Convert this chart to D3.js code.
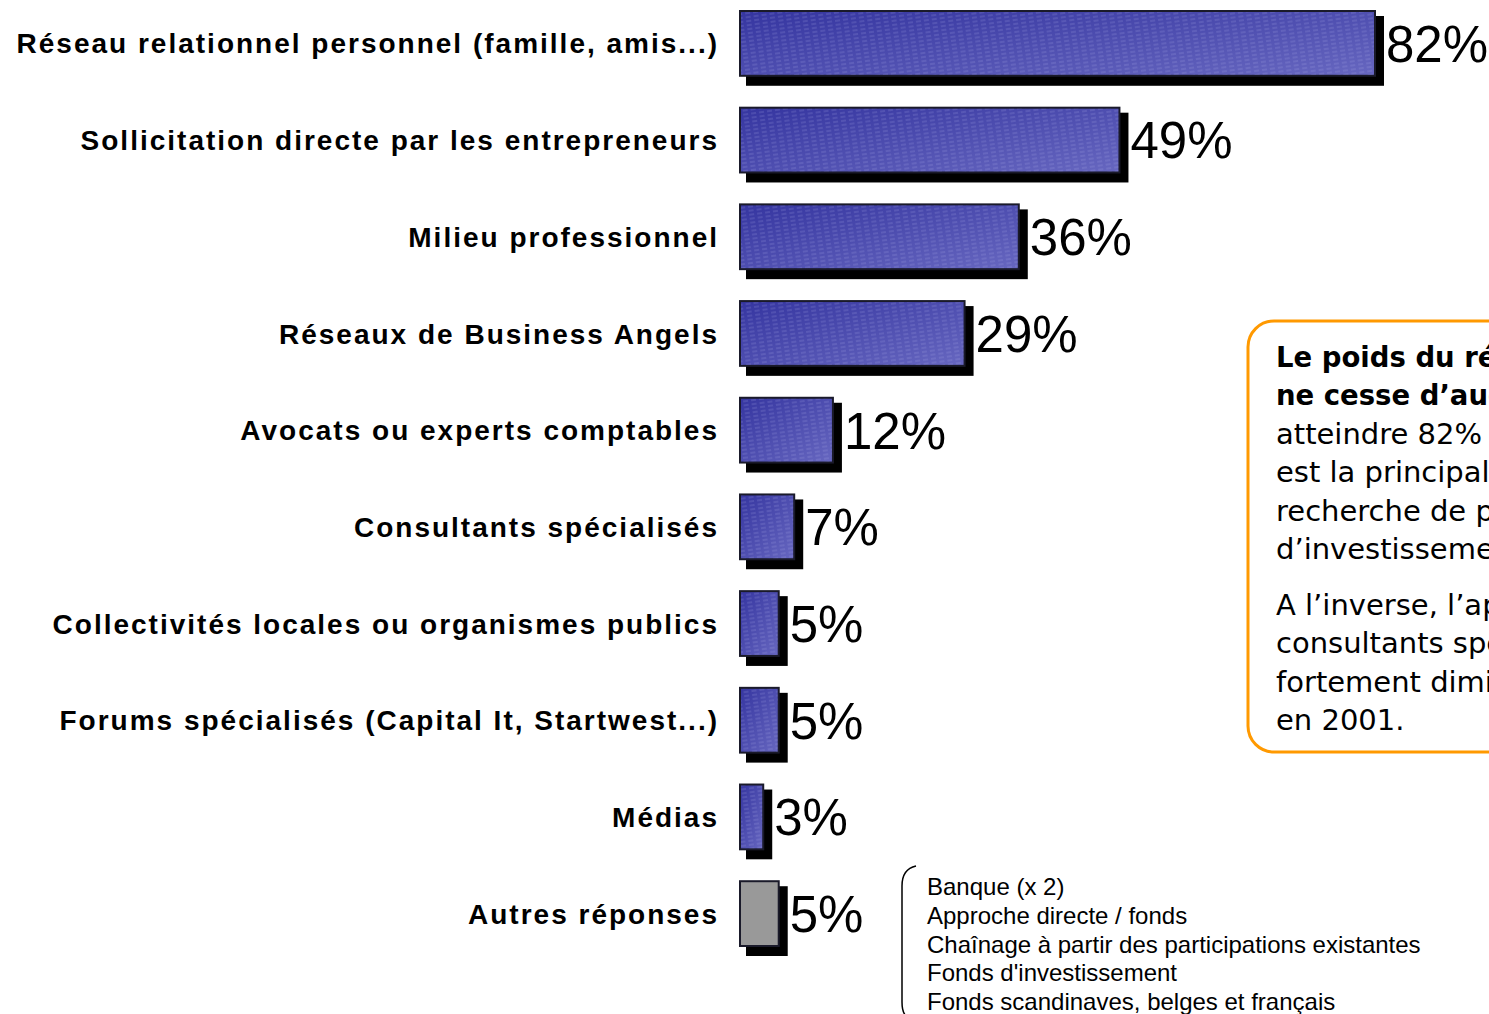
<!DOCTYPE html>
<html lang="fr">
<head>
<meta charset="utf-8">
<title>Sources de projets</title>
<script src="https://d3js.org/d3.v7.min.js"></script>
<style>
  html, body { margin: 0; padding: 0; background: #fff; overflow: hidden; }
  svg { display: block; }
</style>
</head>
<body>
<svg id="chart" width="1489" height="1014"></svg>
<script>
// data
var categories = [
  "Réseau relationnel personnel (famille, amis...)",
  "Sollicitation directe par les entrepreneurs",
  "Milieu professionnel",
  "Réseaux de Business Angels",
  "Avocats ou experts comptables",
  "Consultants spécialisés",
  "Collectivités locales ou organismes publics",
  "Forums spécialisés (Capital It, Startwest...)",
  "Médias",
  "Autres réponses"
];
var values = [82, 49, 36, 29, 12, 7, 5, 5, 3, 5];
var otherNotes = [
  "Banque (x 2)",
  "Approche directe / fonds",
  "Chaînage à partir des participations existantes",
  "Fonds d'investissement",
  "Fonds scandinaves, belges et français"
];
var boxBold = ["Le poids du réseau personnel", "ne cesse d’augmenter pour"];
var boxLines = ["atteindre 82% en 2002. Il", "est la principale source de", "recherche de projets", "d’investissement."];
var boxLines2 = ["A l’inverse, l’apport des", "consultants spécialisés a", "fortement diminué depuis", "en 2001."];

var svg = d3.select("#chart");

var x = d3.scaleLinear().domain([0, 82]).range([740, 1375]);
var y = d3.scaleBand().domain(categories).range([11, 946]).paddingInner(0.33).paddingOuter(0);

var defs = svg.append("defs");
var grad = defs.append("linearGradient").attr("id", "blueGrad")
  .attr("x1", "0%").attr("y1", "0%").attr("x2", "100%").attr("y2", "100%");
grad.append("stop").attr("offset", "0%").attr("stop-color", "#3535a0");
grad.append("stop").attr("offset", "100%").attr("stop-color", "#6767c0");

var pat = defs.append("pattern").attr("id", "hatch")
  .attr("patternUnits", "userSpaceOnUse").attr("width", 8).attr("height", 4)
  .attr("patternTransform", "rotate(-8)");
pat.append("line").attr("x1", 0).attr("y1", 1).attr("x2", 5).attr("y2", 1)
  .attr("stroke", "#b8b8ec").attr("stroke-width", 0.8).attr("stroke-opacity", 0.4);

var rows = svg.selectAll("g.row").data(categories).enter().append("g").attr("class", "row");

// shadows
rows.append("rect")
  .attr("x", function(d) { return x(0) + 6; })
  .attr("y", function(d) { return y(d) + 5; })
  .attr("width", function(d, i) { return x(values[i]) - x(0) + 3; })
  .attr("height", y.bandwidth() + 5)
  .attr("fill", "#000");

// bars
rows.append("rect")
  .attr("x", x(0))
  .attr("y", function(d) { return y(d); })
  .attr("width", function(d, i) { return x(values[i]) - x(0); })
  .attr("height", y.bandwidth())
  .attr("fill", function(d, i) { return i == categories.length - 1 ? "#999999" : "url(#blueGrad)"; })
  .attr("stroke", "#1a1a2a").attr("stroke-width", 2);

rows.filter(function(d, i) { return i < categories.length - 1; }).append("rect")
  .attr("x", x(0) + 1)
  .attr("y", function(d) { return y(d) + 1; })
  .attr("width", function(d) { return x(values[categories.indexOf(d)]) - x(0) - 2; })
  .attr("height", y.bandwidth() - 2)
  .attr("fill", "url(#hatch)");

// category labels
rows.append("text")
  .attr("x", 719)
  .attr("y", function(d) { return y(d) + y.bandwidth() / 2; })
  .attr("dy", "0.36em")
  .attr("text-anchor", "end")
  .attr("font-family", "Liberation Sans, Arial, sans-serif")
  .attr("font-weight", "bold")
  .attr("font-size", 28)
  .attr("letter-spacing", 2.0)
  .attr("fill", "#000")
  .text(function(d) { return d; });

// value labels
rows.append("text")
  .attr("x", function(d, i) { return x(values[i]) + 11; })
  .attr("y", function(d) { return y(d) + y.bandwidth() / 2; })
  .attr("dy", "0.36em")
  .attr("font-family", "Liberation Sans, Arial, sans-serif")
  .attr("font-size", 51)
  .attr("fill", "#000")
  .text(function(d, i) { return values[i] + "%"; });

// bracket and notes for "Autres réponses"
svg.append("path")
  .attr("d", "M916,866 Q902,869 902,886 L902,1002 Q902,1012 906,1016")
  .attr("fill", "none").attr("stroke", "#000").attr("stroke-width", 1.5);

svg.append("g").selectAll("text").data(otherNotes).enter().append("text")
  .attr("x", 927)
  .attr("y", function(d, i) { return 895 + i * 28.8; })
  .attr("font-family", "Liberation Sans, Arial, sans-serif")
  .attr("font-size", 24)
  .attr("fill", "#000")
  .text(function(d) { return d; });

// comment box
svg.append("rect")
  .attr("x", 1248).attr("y", 321).attr("width", 300).attr("height", 431)
  .attr("rx", 26).attr("ry", 26)
  .attr("fill", "#fff").attr("stroke", "#ff9900").attr("stroke-width", 3);

var tb = svg.append("g").attr("font-family", "DejaVu Sans, Verdana, sans-serif").attr("font-size", 29).attr("fill", "#000");
boxBold.forEach(function(t, i) {
  tb.append("text").attr("x", 1276).attr("y", 367 + i * 38.4).attr("font-weight", "bold")
    .attr("font-size", 27.5).text(t);
});
boxLines.forEach(function(t, i) {
  tb.append("text").attr("x", 1276).attr("y", 444 + i * 38.4).text(t);
});
boxLines2.forEach(function(t, i) {
  tb.append("text").attr("x", 1276).attr("y", 615 + i * 38.4).text(t);
});
</script>
</body>
</html>
